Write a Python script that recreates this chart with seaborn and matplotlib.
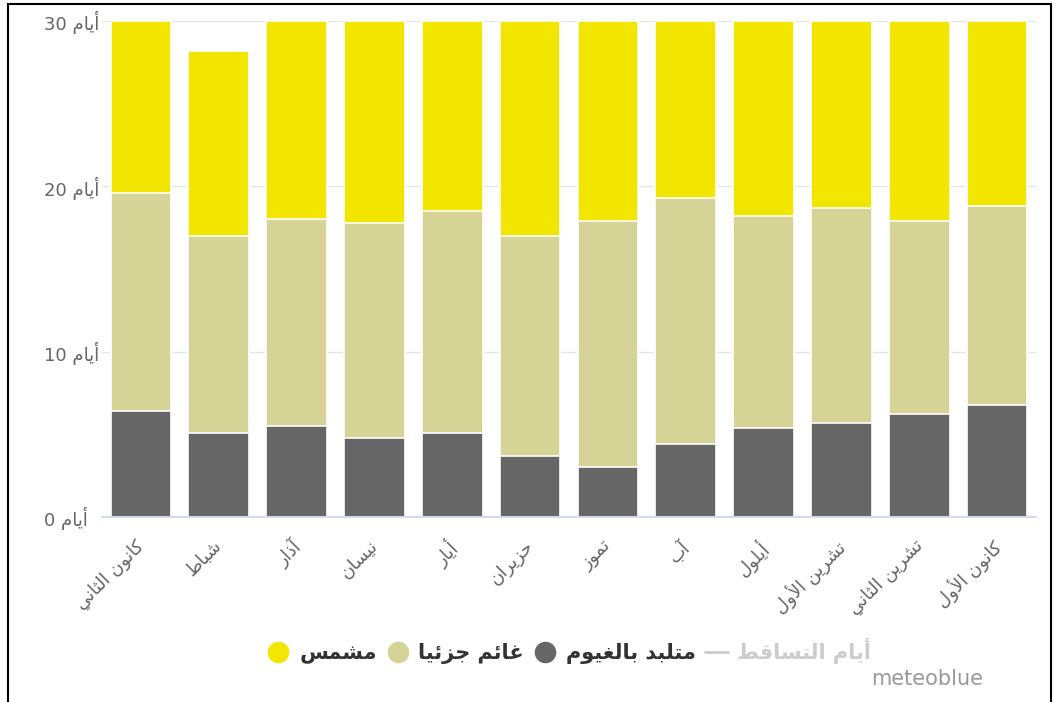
import numpy as np
import pandas as pd
import matplotlib
matplotlib.use("Agg")
import matplotlib.pyplot as plt
import matplotlib.transforms as mtransforms
import seaborn as sns
from matplotlib.lines import Line2D
from matplotlib.patches import Rectangle

# ---- data -------------------------------------------------------------
months = ["كانون الثاني", "شباط", "آذار", "نيسان", "أيار", "حزيران",
          "تموز", "آب", "أيلول", "تشرين الأول", "تشرين الثاني", "كانون الأول"]
overcast = [6.4, 5.1, 5.5, 4.8, 5.1, 3.7, 3.0, 4.4, 5.4, 5.7, 6.2, 6.8]
partly = [13.2, 11.9, 12.5, 13.0, 13.4, 13.3, 14.9, 14.9, 12.8, 13.0, 11.7, 12.0]
sunny = [10.4, 11.2, 12.0, 12.2, 11.5, 13.0, 12.1, 10.7, 11.8, 11.3, 12.1, 11.2]
y_ticks = [0, 10, 20, 30]
unit = "أيام"
legend_names = ["مشمس", "غائم جزئيا", "متلبد بالغيوم", "أيام التساقط"]
credit = "meteoblue"

C_SUN = "#f2e600"
C_PART = "#d6d396"
C_OVER = "#666666"
C_PRECIP = "#cccccc"

# ---- Arabic shaping (presentation forms, visual order) ----------------
FORMS = {  # isolated, final, initial, medial
    "ا": (0xFE8D, 0xFE8E, None, None), "أ": (0xFE83, 0xFE84, None, None),
    "إ": (0xFE87, 0xFE88, None, None), "آ": (0xFE81, 0xFE82, None, None),
    "ب": (0xFE8F, 0xFE90, 0xFE91, 0xFE92), "ت": (0xFE95, 0xFE96, 0xFE97, 0xFE98),
    "ث": (0xFE99, 0xFE9A, 0xFE9B, 0xFE9C), "ج": (0xFE9D, 0xFE9E, 0xFE9F, 0xFEA0),
    "ح": (0xFEA1, 0xFEA2, 0xFEA3, 0xFEA4), "خ": (0xFEA5, 0xFEA6, 0xFEA7, 0xFEA8),
    "د": (0xFEA9, 0xFEAA, None, None), "ذ": (0xFEAB, 0xFEAC, None, None),
    "ر": (0xFEAD, 0xFEAE, None, None), "ز": (0xFEAF, 0xFEB0, None, None),
    "س": (0xFEB1, 0xFEB2, 0xFEB3, 0xFEB4), "ش": (0xFEB5, 0xFEB6, 0xFEB7, 0xFEB8),
    "ص": (0xFEB9, 0xFEBA, 0xFEBB, 0xFEBC), "ض": (0xFEBD, 0xFEBE, 0xFEBF, 0xFEC0),
    "ط": (0xFEC1, 0xFEC2, 0xFEC3, 0xFEC4), "ظ": (0xFEC5, 0xFEC6, 0xFEC7, 0xFEC8),
    "ع": (0xFEC9, 0xFECA, 0xFECB, 0xFECC), "غ": (0xFECD, 0xFECE, 0xFECF, 0xFED0),
    "ف": (0xFED1, 0xFED2, 0xFED3, 0xFED4), "ق": (0xFED5, 0xFED6, 0xFED7, 0xFED8),
    "ك": (0xFED9, 0xFEDA, 0xFEDB, 0xFEDC), "ل": (0xFEDD, 0xFEDE, 0xFEDF, 0xFEE0),
    "م": (0xFEE1, 0xFEE2, 0xFEE3, 0xFEE4), "ن": (0xFEE5, 0xFEE6, 0xFEE7, 0xFEE8),
    "ه": (0xFEE9, 0xFEEA, 0xFEEB, 0xFEEC), "و": (0xFEED, 0xFEEE, None, None),
    "ؤ": (0xFE85, 0xFE86, None, None), "ي": (0xFEF1, 0xFEF2, 0xFEF3, 0xFEF4),
    "ئ": (0xFE89, 0xFE8A, 0xFE8B, 0xFE8C), "ى": (0xFEEF, 0xFEF0, None, None),
    "ة": (0xFE93, 0xFE94, None, None),
}
LAM_ALEF = {"ا": (0xFEFB, 0xFEFC), "أ": (0xFEF7, 0xFEF8),
            "إ": (0xFEF9, 0xFEFA), "آ": (0xFEF5, 0xFEF6)}


def _dual(t):
    return isinstance(t, str) and t in FORMS and FORMS[t][2] is not None


def _joins(t):
    return isinstance(t, tuple) or (t in FORMS)


def shape(text):
    tokens, i = [], 0
    while i < len(text):
        c = text[i]
        if c == "ل" and i + 1 < len(text) and text[i + 1] in LAM_ALEF:
            tokens.append(("LA", text[i + 1]))
            i += 2
        else:
            tokens.append(c)
            i += 1
    out = []
    for k, t in enumerate(tokens):
        prev = tokens[k - 1] if k > 0 else None
        nxt = tokens[k + 1] if k + 1 < len(tokens) else None
        jp = prev is not None and _dual(prev) and _joins(t)
        jn = nxt is not None and _dual(t) and _joins(nxt)
        if isinstance(t, tuple):
            iso, fin = LAM_ALEF[t[1]]
            out.append(chr(fin if jp else iso))
        elif t in FORMS:
            iso, fin, ini, med = FORMS[t]
            if jp and jn:
                cp = med
            elif jp:
                cp = fin
            elif jn:
                cp = ini
            else:
                cp = iso
            out.append(chr(cp))
        else:
            out.append(t)
    return "".join(reversed(out))


# ---- figure -----------------------------------------------------------
sns.set_theme(style="white")
plt.rcParams["font.family"] = ["DejaVu Sans"]

fig = plt.figure(figsize=(10.54, 7.02), dpi=100)
ax = fig.add_axes([102 / 1054, 1 - 517 / 702, (1036 - 102) / 1054, (517 - 21) / 702])

df = pd.DataFrame({
    "month": [shape(m) for m in months],
    "overcast": overcast,
    "partly": partly,
    "sunny": sunny,
})
df["top_partly"] = df["overcast"] + df["partly"]
df["top_sunny"] = df["top_partly"] + df["sunny"]

for col, color in [("top_sunny", C_SUN), ("top_partly", C_PART), ("overcast", C_OVER)]:
    sns.barplot(data=df, x="month", y=col, color=color, saturation=1,
                width=0.78, edgecolor="white", linewidth=1.2, ax=ax, zorder=3)

ax.set_ylim(0, 30)
ax.set_xlim(-0.5, len(months) - 0.5)
ax.set_yticks(y_ticks)
ax.set_yticklabels([f"{v} " + shape(unit) for v in y_ticks])
ax.set_xlabel("")
ax.set_ylabel("")
ax.grid(axis="y", color="#e6e6e6", linewidth=1, zorder=0)
ax.grid(axis="x", visible=False)
for s in ["left", "right", "top"]:
    ax.spines[s].set_visible(False)
ax.spines["bottom"].set_color("#ccd6eb")
ax.spines["bottom"].set_zorder(4)

ax.tick_params(axis="y", length=0, pad=42, labelsize=13, labelcolor="#666666")
ax.tick_params(axis="x", length=0, pad=14, labelsize=13, labelcolor="#666666")
for lbl in ax.get_yticklabels():
    lbl.set_ha("left")
shift = mtransforms.ScaledTranslation(-6 / 100, 0, fig.dpi_scale_trans)
for lbl in ax.get_xticklabels():
    lbl.set_rotation(45)
    lbl.set_ha("right")
    lbl.set_rotation_mode("anchor")
    lbl.set_transform(lbl.get_transform() + shift)

# legend: circle markers for the stacked series, a line for precipitation days
handles = [
    Line2D([], [], marker="o", linestyle="none", markersize=14.5, color=C_SUN),
    Line2D([], [], marker="o", linestyle="none", markersize=14.5, color=C_PART),
    Line2D([], [], marker="o", linestyle="none", markersize=14.5, color=C_OVER),
    Line2D([], [], color=C_PRECIP, linewidth=2),
]
leg = ax.legend(handles, [shape(n) for n in legend_names], ncol=4,
                loc="center", bbox_to_anchor=(569 / 1054, (702 - 651) / 702),
                bbox_transform=fig.transFigure, frameon=False,
                prop={"weight": "bold", "size": 15}, handlelength=1.1,
                handletextpad=0.45, columnspacing=0.45)
for txt, c in zip(leg.get_texts(), ["#333333", "#333333", "#333333", "#cccccc"]):
    txt.set_color(c)

fig.text(983 / 1054, 1 - 679 / 702, credit, ha="right", va="center",
         fontsize=15, color="#999999")

# outer frame
fig.add_artist(Rectangle((8 / 1054, -0.05), (1051 - 8) / 1054, 1.05 - 4 / 702,
                         transform=fig.transFigure, fill=False,
                         edgecolor="black", linewidth=1.5))

fig.savefig("out.png", dpi=100, facecolor="white")
